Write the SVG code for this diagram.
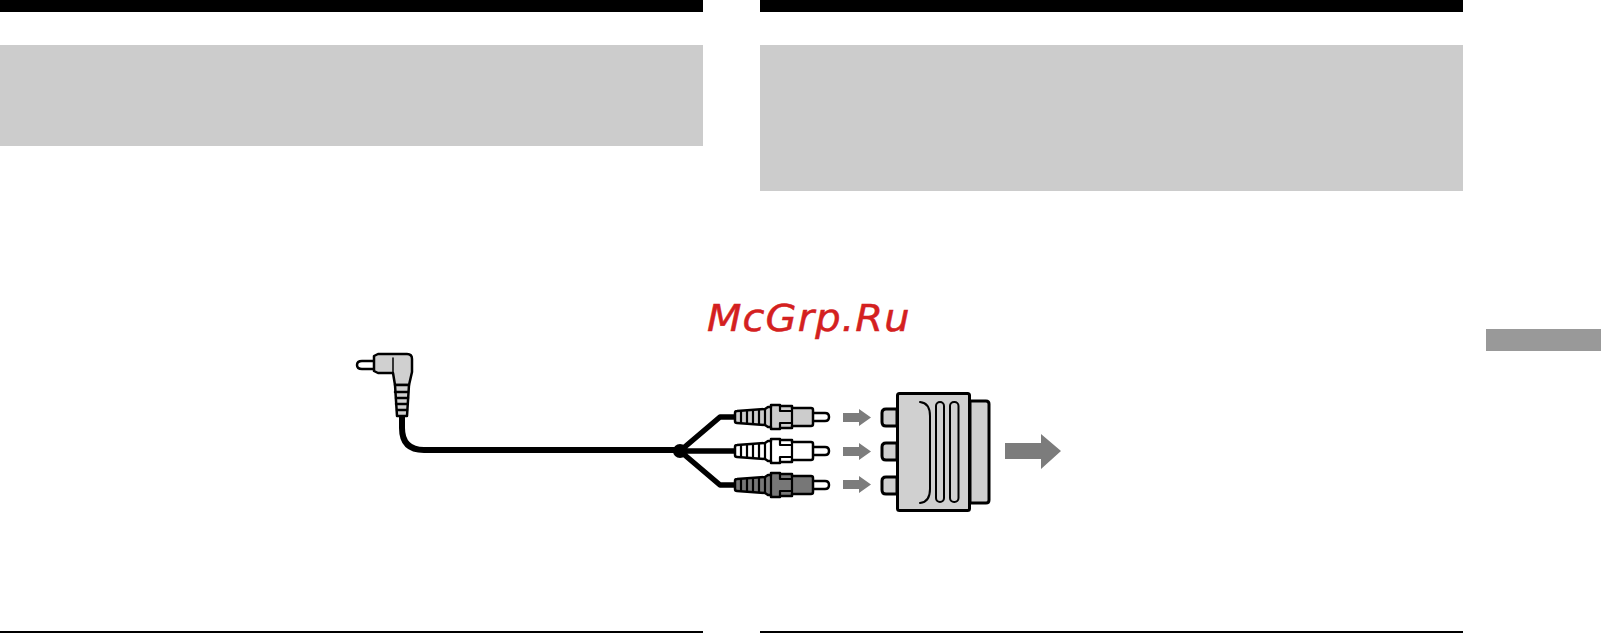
<svg xmlns="http://www.w3.org/2000/svg" width="1601" height="633" viewBox="0 0 1601 633">
<style>
.k{stroke:#000;stroke-linejoin:round;stroke-linecap:round}
.ln{fill:none;stroke:#000;stroke-linejoin:round;stroke-linecap:round}
.ar{fill:#7c7c7c}
.g{fill:#ccc}
.a{fill:#d0d0d0}
</style>
<defs>
<g id="rca">
<path class="k" d="M812-4H825Q829-4 829 0Q829 4 825 4H812Z" fill="#fff" stroke-width="2.500"/>
<path class="k" stroke-width="2.500" d="M735-4Q735-6 737-6L765-8L768-10H771V-12H780V-11H792V-9H811Q813-9 813-7V7Q813 9 811 9H792V11H780V12H771V10H768L765 8L737 6Q735 6 735 4Z"/>
<path class="ln" stroke-width="2.200" d="M741-6V6M747-6V6M753-6V6M759-7V7M765-8V8M771-10V10M780-6H792M780 6H792M780-11V-6M780 6V11M792-9V9"/>
</g>
</defs>
<g id="page-bars">
<rect width="703" height="12"/>
<rect x="760" width="703" height="12"/>
<rect class="g" y="45" width="703" height="101"/>
<rect class="g" x="760" y="45" width="703" height="146"/>
<rect x="1486" y="329" width="115" height="22" fill="#999"/>
<rect y="631" width="703" height="2"/>
<rect x="760" y="631" width="703" height="2"/>
</g>
<text id="watermark" transform="translate(707 331) scale(1.08 1)" font-family="DejaVu Sans, sans-serif" font-style="italic" font-size="37" letter-spacing="1" fill="#d42020" stroke="#d42020" stroke-width="0.500">McGrp.Ru</text>
<g id="connectors">
<path class="ln" stroke-width="6" d="M402 414V428Q402 450 424 450H680"/>
<path class="ln" stroke-width="5.500" d="M680 451L720 417H736M680 451L720 485H736M680 451H736"/>
<circle cx="680" cy="451" r="7"/>
</g>
<g id="plug">
<path class="k" d="M376 361H362Q357 361 357 365Q357 369 362 369H376Z" fill="#fff" stroke-width="2.500"/>
<path class="k a" stroke-width="2.500" d="M374 356L378 354H407Q412 354 412 359V372L409 385H395L393 373H378L374 371Z"/>
<path class="ln" stroke-width="1.500" d="M393 358V373"/>
<path class="k a" stroke-width="2.500" d="M395 385H409L407 416H397Z"/>
<path class="ln" stroke-width="2.500" d="M395 392H408M396 398H408M396 404H407M397 410H407"/>
</g>
<g id="rca-top" transform="translate(0 417)" fill="#ccc"><use href="#rca"/></g>
<g id="rca-mid" transform="translate(0 451)" fill="#fff"><use href="#rca"/></g>
<g id="rca-low" transform="translate(0 485)" fill="#777"><use href="#rca"/></g>
<g id="arrows">
<path class="ar" d="M843 413H859V409L871 417.500L859 426V422H843Z"/>
<path class="ar" d="M843 447H859V443L871 451.500L859 460V456H843Z"/>
<path class="ar" d="M843 480H859V476L871 484.500L859 493V489H843Z"/>
<path class="ar" d="M1005 443H1041V434L1061 451L1041 469V459H1005Z"/>
</g>
<g id="adapter">
<path class="k a" stroke-width="3" d="M970 401H986Q989 401 989 404V500Q989 503 986 503H970Z"/>
<path class="k a" stroke-width="3" d="M897 409H886Q882 409 882 413V422Q882 426 886 426H897Z"/>
<path class="k a" stroke-width="3" d="M897 443H886Q882 443 882 447V456Q882 460 886 460H897Z"/>
<path class="k a" stroke-width="3" d="M897 477H886Q882 477 882 481V490Q882 494 886 494H897Z"/>
<rect class="k a" x="897.500" y="393.500" width="72" height="117" rx="2" stroke-width="3"/>
<path class="ln" stroke-width="2" d="M920 402Q930 403 930 416V489Q930 502 920 503"/>
<rect x="936" y="402" width="8" height="100" rx="4" fill="none" stroke="#000" stroke-width="2"/>
<rect x="950" y="402" width="8.500" height="100" rx="4" fill="none" stroke="#000" stroke-width="2"/>
</g>
</svg>
